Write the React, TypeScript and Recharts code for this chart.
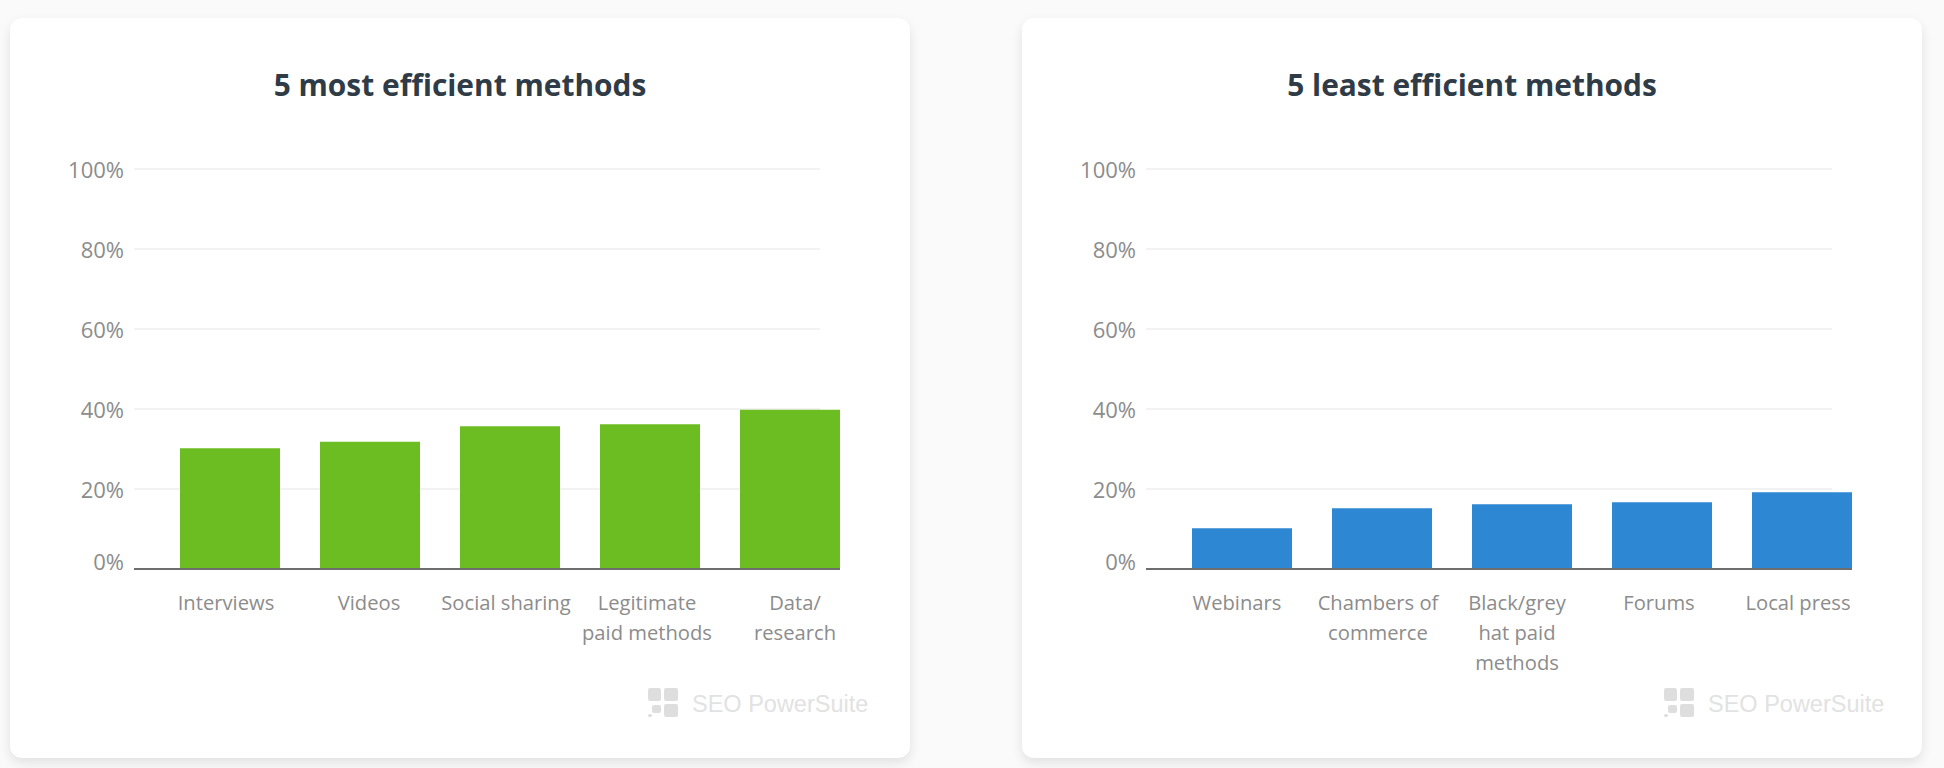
import { BarChart, Bar, XAxis, YAxis, CartesianGrid } from "recharts";

const yTicks = [0, 20, 40, 60, 80, 100];

const mostLabels = ["Interviews", "Videos", "Social sharing", "Legitimate|paid methods", "Data/|research"];
const mostValues = [30.2, 31.8, 35.7, 36.2, 39.8];
const mostNudge = [-4, -1, -4, -3, 5];

const leastLabels = ["Webinars", "Chambers of|commerce", "Black/grey|hat paid|methods", "Forums", "Local press"];
const leastValues = [10.2, 15.2, 16.2, 16.7, 19.2];
const leastNudge = [-5, -4, -5, -3, -4];

const FONT = "'Open Sans', sans-serif";

function YTick({ x, y, payload }: any) {
  // the 0% label sits above the baseline in the original
  const dy = payload.value === 0 ? -7 : 1;
  return (
    <text x={x - 2} y={y + dy} dy="0.36em" textAnchor="end" fontFamily={FONT} fontSize={22} fill="#8c8c8c">
      {payload.value}%
    </text>
  );
}

function XTick({ x, y, payload, index, nudge }: any) {
  const lines: string[] = payload.value.split("|");
  return (
    <text x={x + nudge[index]} y={y} textAnchor="middle" fontFamily={FONT} fontSize={20.2} fill="#8c8c8c">
      {lines.map((l, i) => (
        <tspan key={i} x={x + nudge[index]} y={y + 32.5 + i * 30.4}>
          {l}
        </tspan>
      ))}
    </text>
  );
}

function Watermark() {
  const sq = { position: "absolute", background: "#dedede", borderRadius: 2 } as const;
  return (
    <div style={{ position: "absolute", left: 638, top: 670, width: 240, height: 30 }}>
      <div style={{ ...sq, left: 0, top: 0, width: 13, height: 13 }} />
      <div style={{ ...sq, left: 16, top: 0, width: 14, height: 13 }} />
      <div style={{ ...sq, left: 16, top: 16, width: 14, height: 13 }} />
      <div style={{ ...sq, left: 4, top: 17, width: 9, height: 8 }} />
      <div style={{ ...sq, left: 0, top: 26, width: 4, height: 3 }} />
      <div
        style={{
          position: "absolute",
          left: 44,
          top: 1,
          fontFamily: "'Liberation Sans', sans-serif",
          fontSize: 23.5,
          lineHeight: "30px",
          color: "#e2e2e2",
          whiteSpace: "nowrap",
        }}
      >
        SEO PowerSuite
      </div>
    </div>
  );
}

function Card({ left, title, labels, values, nudge, color, logoShift }: any) {
  const data = labels.map((name: string, i: number) => ({ name, value: values[i] }));
  return (
    <div
      style={{
        position: "absolute",
        left,
        top: 18,
        width: 900,
        height: 740,
        background: "#fff",
        borderRadius: 12,
        boxShadow: "0 5px 12px rgba(0,0,0,0.10)",
      }}
    >
      <div
        style={{
          position: "absolute",
          left: 0,
          top: 45,
          width: 900,
          textAlign: "center",
          fontFamily: FONT,
          fontWeight: 700,
          fontSize: 29.9,
          lineHeight: "44px",
          color: "#2f3b46",
        }}
      >
        {title}
      </div>
      <BarChart
        width={900}
        height={740}
        data={data}
        margin={{ top: 151, right: 70, bottom: 71, left: 0 }}
        style={{ position: "absolute", left: 0, top: 0 }}
      >
        <CartesianGrid vertical={false} x={124} width={686} stroke="#eeeeee" strokeWidth={1.5} />
        <XAxis
          dataKey="name"
          height={118}
          padding={{ left: 26, right: -20 }}
          axisLine={{ stroke: "#6e6e6e", strokeWidth: 2 }}
          tickLine={false}
          interval={0}
          tick={<XTick nudge={nudge} />}
        />
        <YAxis
          width={124}
          domain={[0, 100]}
          ticks={yTicks}
          axisLine={false}
          tickLine={false}
          tickMargin={2}
          tick={<YTick />}
        />
        <Bar dataKey="value" fill={color} barSize={100} isAnimationActive={false} />
      </BarChart>
      <div style={{ position: "absolute", left: logoShift, top: 0 }}>
        <Watermark />
      </div>
    </div>
  );
}

export default function App() {
  return (
    <div style={{ position: "fixed", left: 0, top: 0, width: 1944, height: 768, background: "#fafafa", overflow: "hidden" }}>
      <Card left={10} title="5 most efficient methods" labels={mostLabels} values={mostValues} nudge={mostNudge} color="#6bbd22" logoShift={0} />
      <Card left={1022} title="5 least efficient methods" labels={leastLabels} values={leastValues} nudge={leastNudge} color="#2e87d3" logoShift={4} />
    </div>
  );
}
